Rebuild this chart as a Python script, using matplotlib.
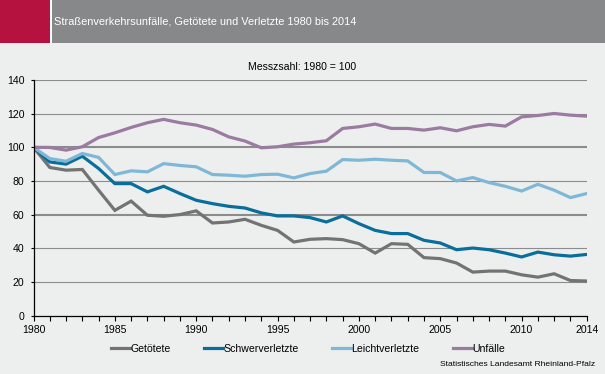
import numpy as np
import matplotlib
matplotlib.use("Agg")
from matplotlib import pyplot as plt
from matplotlib.patches import Rectangle

plt.rcParams['font.family'] = ['Liberation Sans', 'DejaVu Sans']

W, H = 605, 374

years = list(range(1980, 2015))

getoetete = [100, 88, 86.4, 86.8, 74.5, 62.5, 68, 59.6, 59, 60,
             62.2, 55, 55.6, 57.2, 53.6, 50.6, 43.7, 45.3, 45.7, 45.1,
             42.7, 37.1, 42.7, 42.3, 34.4, 33.8, 31.2, 25.8, 26.4, 26.4,
             24.2, 22.8, 24.8, 20.8, 20.5]
schwer = [100, 91.3, 90, 94.7, 87.4, 78.4, 78.4, 73.5, 76.8, 72.5,
          68.5, 66.5, 64.9, 63.9, 61, 59.2, 59.2, 58.2, 55.6, 59.2,
          54.6, 50.6, 48.7, 48.7, 44.7, 43.1, 39.1, 40.1, 39.1, 37.1,
          34.8, 37.7, 36.1, 35.3, 36.3]
leicht = [100, 93.3, 91.7, 96.3, 94, 83.8, 86, 85.4, 90.3, 89.2,
          88.4, 83.8, 83.4, 82.8, 83.8, 84, 81.8, 84.4, 85.8, 92.7,
          92.3, 92.9, 92.3, 91.9, 85, 85, 80, 82, 79, 76.8,
          74, 78, 74.5, 70.1, 72.5]
unfaelle = [100, 99.9, 98.3, 100.3, 105.8, 108.6, 111.8, 114.6, 116.6, 114.6,
            113.2, 110.6, 106.2, 103.7, 99.7, 100.3, 101.9, 102.7, 103.9, 111.2,
            112.2, 113.8, 111.2, 111.2, 110.2, 111.6, 109.8, 112.2, 113.6, 112.6,
            118.1, 118.9, 120.1, 119.1, 118.5]

labels = ["Getötete", "Schwerverletzte", "Leichtverletzte", "Unfälle"]
colors = ["#737373", "#0A6E9C", "#7FB8D6", "#9B7BA1"]
xtick_vals = [1980, 1985, 1990, 1995, 2000, 2005, 2010, 2014]
ytick_vals = [0, 20, 40, 60, 80, 100, 120, 140]

BG = "#EDEFEE"

fig = plt.figure(figsize=(W / 100, H / 100), dpi=100, facecolor=BG)

# header band
fig.patches.append(Rectangle((0, 1 - 43 / H), 50 / W, 43 / H, transform=fig.transFigure,
                             facecolor="#B5123F", edgecolor="none"))
fig.patches.append(Rectangle((50 / W, 1 - 43 / H), 2 / W, 43 / H, transform=fig.transFigure,
                             facecolor="white", edgecolor="none"))
fig.patches.append(Rectangle((52 / W, 1 - 43 / H), 1 - 52 / W, 43 / H, transform=fig.transFigure,
                             facecolor="#878889", edgecolor="none"))
fig.text(54 / W, 1 - 21.5 / H, "Straßenverkehrsunfälle, Getötete und Verletzte 1980 bis 2014",
         color="white", fontsize=7.9, va="center", ha="left")
fig.text(302 / W, 1 - 67 / H, "Messzsahl: 1980 = 100", color="black", fontsize=7.6,
         va="center", ha="center")

ax = fig.add_axes([33.5 / W, (H - 315.5) / H, (586.7 - 33.5) / W, (315.5 - 80) / H])
ax.set_facecolor(BG)

for v in ytick_vals[1:]:
    lw = 1.5 if v in (60, 100) else 0.8
    ax.axhline(v, color="#8C8C8C", lw=lw, zorder=1)

for vals, lab, c in zip([getoetete, schwer, leicht, unfaelle], labels, colors):
    ax.plot(years, vals, color=c, lw=2.3, label=lab, zorder=3, solid_joinstyle="miter")

ax.set_xlim(1980, 2014)
ax.set_ylim(0, 140)
ax.set_xticks(years, minor=False)
ax.set_xticklabels([str(y) if y in xtick_vals else "" for y in years], fontsize=7.6)
ax.set_yticks(ytick_vals)
ax.set_yticklabels([str(v) for v in ytick_vals], fontsize=7.6)
ax.tick_params(axis="x", direction="out", length=3.5, width=0.8, pad=3, colors="black")
ax.tick_params(axis="y", direction="out", length=2.5, width=0.8, pad=4, colors="black")
for s in ["top", "right"]:
    ax.spines[s].set_visible(False)
for s in ["left", "bottom"]:
    ax.spines[s].set_linewidth(0.9)
    ax.spines[s].set_zorder(4)

handles, hl = ax.get_legend_handles_labels()
fig.legend(handles, hl, loc="center", bbox_to_anchor=(308 / W, 1 - 349 / H), ncol=4,
           frameon=False, fontsize=7.6, handlelength=1.8, handletextpad=0.0,
           columnspacing=3.2, borderpad=0, borderaxespad=0)

fig.text(595 / W, 1 - 364 / H, "Statistisches Landesamt Rheinland-Pfalz", fontsize=6.1,
         ha="right", va="center", color="black")

fig.savefig("out.png", dpi=100, facecolor=BG)
